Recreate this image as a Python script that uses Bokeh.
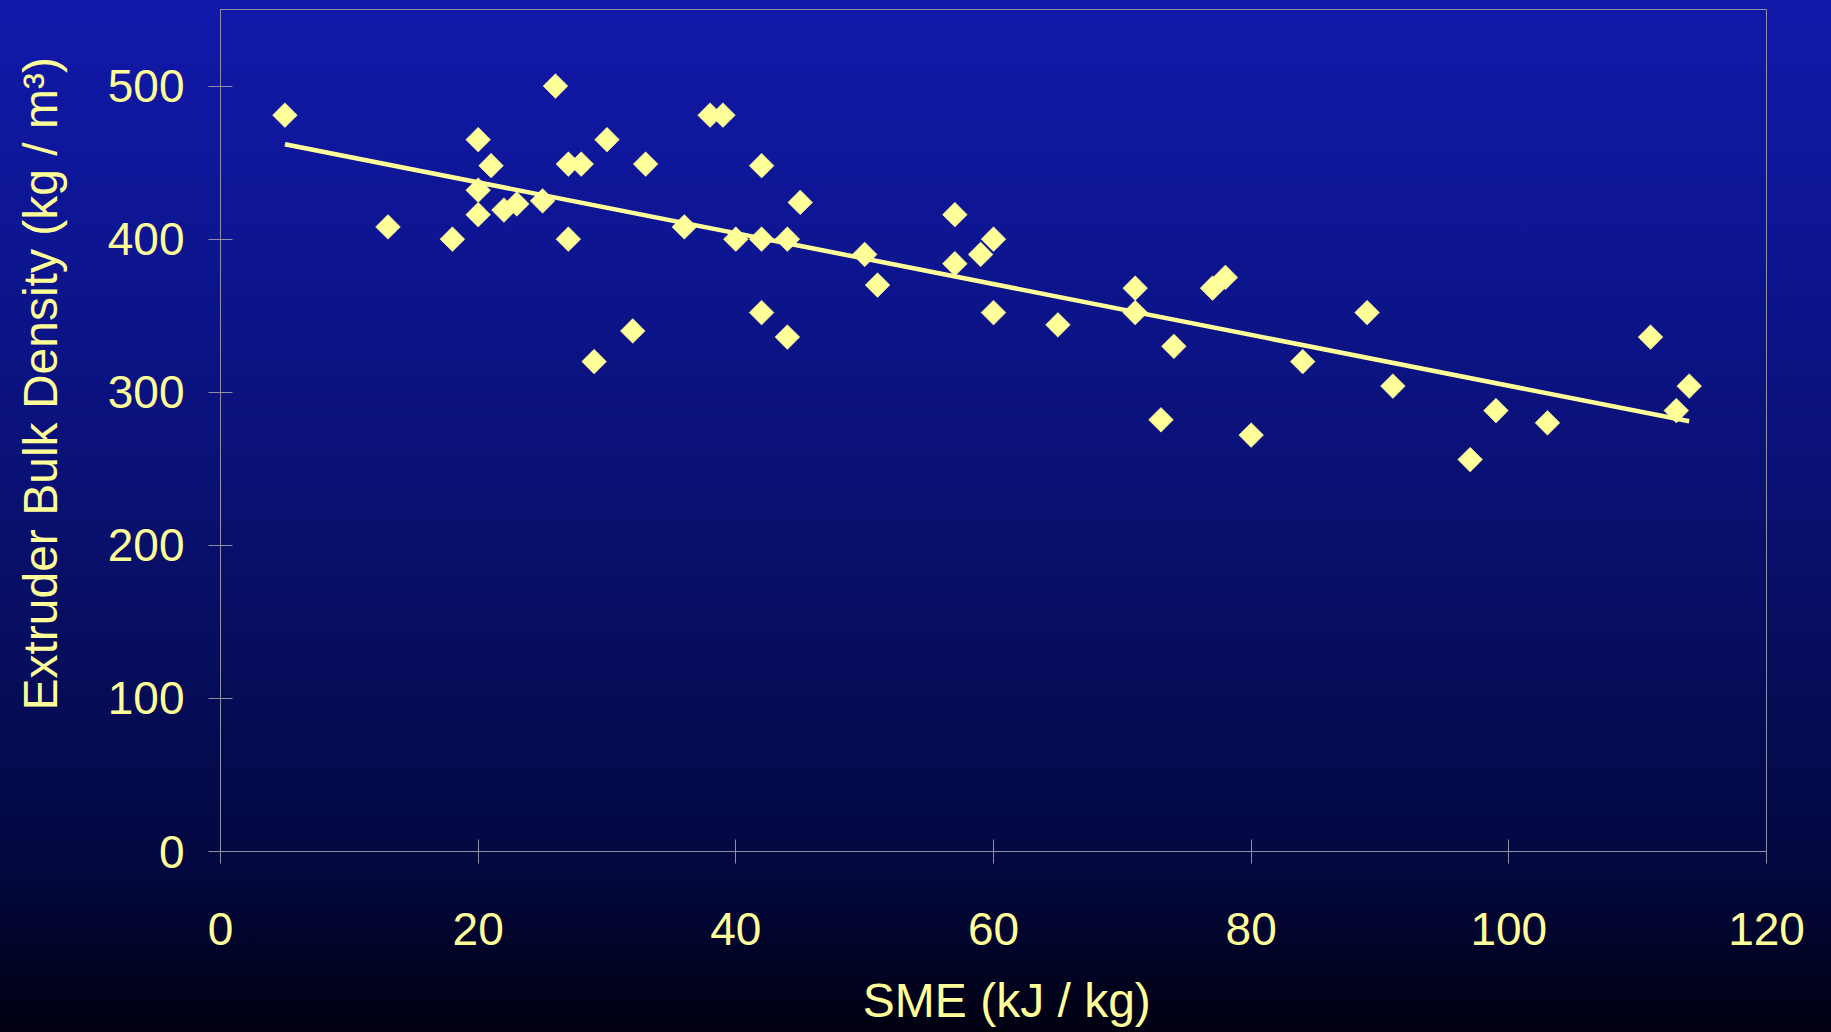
from bokeh.plotting import figure
from bokeh.models import Range1d, FixedTicker, ColumnDataSource
from bokeh.embed import file_html
from bokeh.resources import INLINE
import math

# ---- data ----
sme = [5, 13, 18, 20, 20, 20, 21, 22, 23, 25, 26, 27, 27, 28, 29, 30, 32, 33,
       36, 38, 39, 40, 42, 42, 42, 44, 44, 45, 50, 51, 57, 57, 59, 60, 60, 65,
       71, 71, 73, 74, 77, 78, 80, 84, 89, 91, 97, 99, 103, 111, 113, 114]
density = [481, 408, 400, 465, 432, 416, 448, 419, 423, 425, 500, 449, 400, 449, 320, 465, 340, 449,
           408, 481, 481, 400, 448, 400, 352, 400, 336, 424, 390, 370, 416, 384, 390, 400, 352, 344,
           368, 352, 282, 330, 368, 375, 272, 320, 352, 304, 256, 288, 280, 336, 288, 304]

trend_x = [5, 114]
trend_y = [462, 281]

x_ticks = [0, 20, 40, 60, 80, 100, 120]
y_ticks = [0, 100, 200, 300, 400, 500]

x_title = "SME (kJ / kg)"
y_title = "Extruder Bulk Density (kg / m³)"

YELLOW = "#FFFF99"
GREY = "#8E8EA6"
FONT = "Liberation Sans"
NBSP = "\u00a0"

p = figure(
    frame_width=1546, frame_height=842,
    min_border_left=220, min_border_right=65, min_border_top=9, min_border_bottom=181,
    x_range=Range1d(0, 120), y_range=Range1d(0, 550),
    output_backend="svg", toolbar_location=None,
)
p.styles = {"background": "linear-gradient(to bottom, #1119AA 0%, #0D1590 25%, #0A1176 45%, #060D5A 65%, #030840 84%, #000010 100%)"}
p.background_fill_color = None
p.border_fill_color = None
p.outline_line_color = GREY
p.outline_line_width = 1
p.grid.visible = False

for ax in (p.xaxis[0], p.yaxis[0]):
    ax.axis_line_color = GREY
    ax.major_tick_line_color = GREY
    ax.major_tick_in = 12
    ax.major_tick_out = 12
    ax.minor_tick_line_color = None
    ax.major_label_text_color = YELLOW
    ax.major_label_text_font = FONT
    ax.major_label_text_font_size = "46px"
    ax.axis_label_text_color = YELLOW
    ax.axis_label_text_font = FONT
    ax.axis_label_text_font_size = "48px"
    ax.axis_label_text_font_style = "normal"

p.xaxis.ticker = FixedTicker(ticks=x_ticks)
p.yaxis.ticker = FixedTicker(ticks=y_ticks)
p.xaxis.major_label_standoff = 49
p.yaxis.major_label_standoff = 24
# leading no-break spaces nudge the centred titles to where the reference has them
p.xaxis.axis_label = NBSP * 2 + x_title
p.yaxis.axis_label = NBSP * 7 + y_title
p.xaxis.axis_label_standoff = 26
p.yaxis.axis_label_standoff = 38

src = ColumnDataSource(dict(x=sme, y=density))
p.line(trend_x, trend_y, line_color=YELLOW, line_width=4.5)
p.scatter("x", "y", source=src, marker="square", size=17.5, angle=math.pi / 4,
          fill_color=YELLOW, line_color=YELLOW, line_width=0.5)

open("out.html", "w").write(file_html(p, INLINE))
